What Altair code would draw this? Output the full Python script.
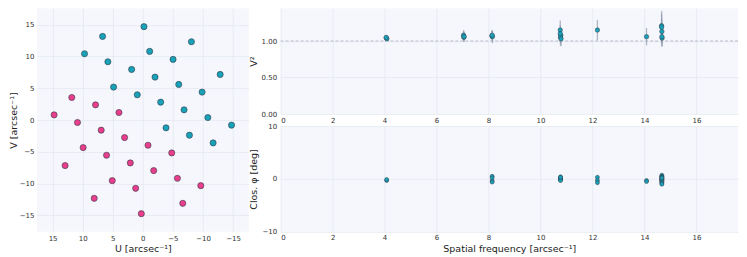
import altair as alt
import pandas as pd

# ---------------- data ----------------
# (u, v) coverage, observed baselines (teal) and their conjugates (pink)
u_obs = [-0.19, 6.69, -8.08, 9.69, -1.14, 5.81, -5.03, 1.86, -12.86, -2.03, 4.86,
         -5.97, -9.86, 0.92, -2.97, -6.86, -10.81, -14.75, -3.86, -7.75, -11.69]
v_obs = [14.69, 13.16, 12.32, 10.43, 10.80, 9.17, 9.54, 7.96, 7.17, 6.75, 5.18,
         5.60, 4.39, 3.97, 2.81, 1.60, 0.39, -0.81, -1.23, -2.39, -3.60]
u_conj = [14.75, 11.81, 7.86, 3.97, 10.86, 6.92, 3.03, -0.86, 9.92, -4.81, 6.03,
          12.92, 2.08, -1.81, -5.75, 5.08, -9.64, 1.19, 8.08, -6.64, 0.25]
v_conj = [0.81, 3.55, 2.39, 1.18, -0.39, -1.60, -2.76, -3.97, -4.34, -5.18, -5.54,
          -7.17, -6.75, -7.96, -9.17, -9.54, -10.33, -10.75, -12.32, -13.11, -14.74]

# squared visibilities
v2_freq = [4.07, 4.09, 4.06, 7.04, 7.05, 7.06, 8.13, 8.15, 8.14,
           10.76, 10.78, 10.77, 10.79, 10.76, 12.19, 14.08,
           14.66, 14.67, 14.68, 14.67, 14.66]
v2_val = [1.04, 1.03, 1.05, 1.08, 1.05, 1.06, 1.07, 1.06, 1.08,
          1.15, 1.08, 1.05, 1.03, 1.10, 1.15, 1.06,
          1.21, 1.13, 1.04, 1.06, 1.19]
v2_err = [0.02, 0.02, 0.025, 0.07, 0.06, 0.07, 0.07, 0.09, 0.06,
          0.13, 0.10, 0.11, 0.10, 0.12, 0.14, 0.12,
          0.20, 0.17, 0.11, 0.14, 0.18]

# closure phases
cp_freq = [4.08, 4.08,
           8.14, 8.14, 8.14, 8.14,
           10.77, 10.77, 10.77, 10.77, 10.77, 10.77, 10.77, 10.77,
           12.19, 12.19, 12.19,
           14.08, 14.08,
           14.67, 14.67, 14.67, 14.67, 14.67, 14.67, 14.67, 14.67,
           14.67, 14.67, 14.67, 14.67, 14.67, 14.67, 14.67, 14.67]
cp_val = [-0.3, -0.1,
          0.5, 0.2, -0.4, -0.6,
          0.4, 0.2, 0.1, 0.0, -0.1, -0.2, -0.3, 0.3,
          0.3, -0.3, -0.7,
          -0.3, -0.5,
          0.7, 0.5, 0.4, 0.3, 0.2, 0.1, 0.0, -0.1,
          -0.2, -0.3, -0.4, -0.5, -0.6, -0.8, -1.0, 0.2]
cp_err = [0.25, 0.25,
          0.3, 0.3, 0.3, 0.3,
          0.3, 0.3, 0.3, 0.3, 0.3, 0.3, 0.3, 0.3,
          0.3, 0.3, 0.3,
          0.3, 0.3,
          0.3, 0.3, 0.3, 0.3, 0.3, 0.3, 0.3, 0.3,
          0.3, 0.3, 0.3, 0.3, 0.3, 0.3, 0.3, 0.3]

# ---------------- style ----------------
FONT = "DejaVu Sans"
TEAL = "#17a2b8"
PINK = "#e83e8c"
EDGE = "#34394a"
BG = "#f5f7fc"
GRID = "#e4e8f0"
ERR = "#8e99ab"

uv = pd.DataFrame({
    "u": u_obs + u_conj,
    "v": v_obs + v_conj,
    "set": ["obs"] * len(u_obs) + ["conj"] * len(u_conj),
})
v2 = pd.DataFrame({"f": v2_freq, "v2": v2_val, "e": v2_err})
cp = pd.DataFrame({"f": cp_freq, "cp": cp_val, "e": cp_err})

uv_ticks = [-15, -10, -5, 0, 5, 10, 15]

left = alt.Chart(uv).mark_circle(size=38, opacity=1, stroke=EDGE, strokeWidth=0.6).encode(
    x=alt.X("u:Q",
            scale=alt.Scale(domain=[-17.6, 17.6], reverse=True, nice=False, zero=False),
            axis=alt.Axis(values=uv_ticks, title="U [arcsec⁻¹]", titlePadding=2, labelPadding=3)),
    y=alt.Y("v:Q",
            scale=alt.Scale(domain=[-17.6, 17.6], nice=False, zero=False),
            axis=alt.Axis(values=uv_ticks, title="V [arcsec⁻¹]", titlePadding=1, labelPadding=3)),
    color=alt.Color("set:N", scale=alt.Scale(domain=["obs", "conj"], range=[TEAL, PINK]), legend=None),
).properties(width=212, height=224)

fx_ticks = [0, 2, 4, 6, 8, 10, 12, 14, 16]
xscale = alt.Scale(domain=[0, 17.6], nice=False, zero=False)

one = alt.Chart(pd.DataFrame({"y": [1.0]})).mark_rule(
    color="#a9b0bf", strokeDash=[3, 2], strokeWidth=0.8
).encode(y="y:Q")

v2_err_bars = alt.Chart(v2).transform_calculate(
    lo="datum.v2 - datum.e", hi="datum.v2 + datum.e"
).mark_rule(color=ERR, strokeWidth=1.3, opacity=0.7).encode(
    x=alt.X("f:Q", scale=xscale),
    y=alt.Y("lo:Q"),
    y2="hi:Q",
)
v2_pts = alt.Chart(v2).mark_circle(size=20, opacity=1, stroke=EDGE, strokeWidth=0.5, color=TEAL).encode(
    x=alt.X("f:Q", scale=xscale,
            axis=alt.Axis(values=fx_ticks, title=None, labelPadding=2)),
    y=alt.Y("v2:Q", scale=alt.Scale(domain=[0, 1.45], nice=False, zero=False),
            axis=alt.Axis(values=[0, 0.25, 0.5, 0.75, 1.0, 1.25], format=".2f",
                          title="V²", titlePadding=3, labelPadding=4)),
)
top = alt.layer(one, v2_err_bars, v2_pts).properties(width=458, height=106)

cp_err_bars = alt.Chart(cp).transform_calculate(
    lo="datum.cp - datum.e", hi="datum.cp + datum.e"
).mark_rule(color=ERR, strokeWidth=1.2, opacity=0.7).encode(
    x=alt.X("f:Q", scale=xscale),
    y=alt.Y("lo:Q"),
    y2="hi:Q",
)
cp_pts = alt.Chart(cp).mark_circle(size=16, opacity=1, stroke=EDGE, strokeWidth=0.5, color=TEAL).encode(
    x=alt.X("f:Q", scale=xscale,
            axis=alt.Axis(values=fx_ticks, title="Spatial frequency [arcsec⁻¹]",
                          titlePadding=3, labelPadding=2)),
    y=alt.Y("cp:Q", scale=alt.Scale(domain=[-10, 10], nice=False, zero=False),
            axis=alt.Axis(values=[-10, -5, 0, 5, 10], title="Clos. φ [deg]",
                          titlePadding=3, labelPadding=4)),
)
bottom = alt.layer(cp_err_bars, cp_pts).properties(width=458, height=106)

right = alt.vconcat(top, bottom, spacing=12, bounds="flush")

chart = alt.hconcat(left, right, spacing=32, bounds="flush").properties(
    padding={"left": 0, "top": 0, "right": 0, "bottom": 0},
    background="white",
).configure_view(
    fill=BG, stroke=None
).configure_axis(
    labelFont=FONT, labelFontSize=7, labelColor="#333333",
    titleFont=FONT, titleFontSize=9.5, titleFontWeight="normal", titleColor="#222222",
    gridColor=GRID, gridWidth=0.8, domain=False, ticks=False,
)

chart.save("out.html", embed_options={"renderer": "svg", "actions": False})
